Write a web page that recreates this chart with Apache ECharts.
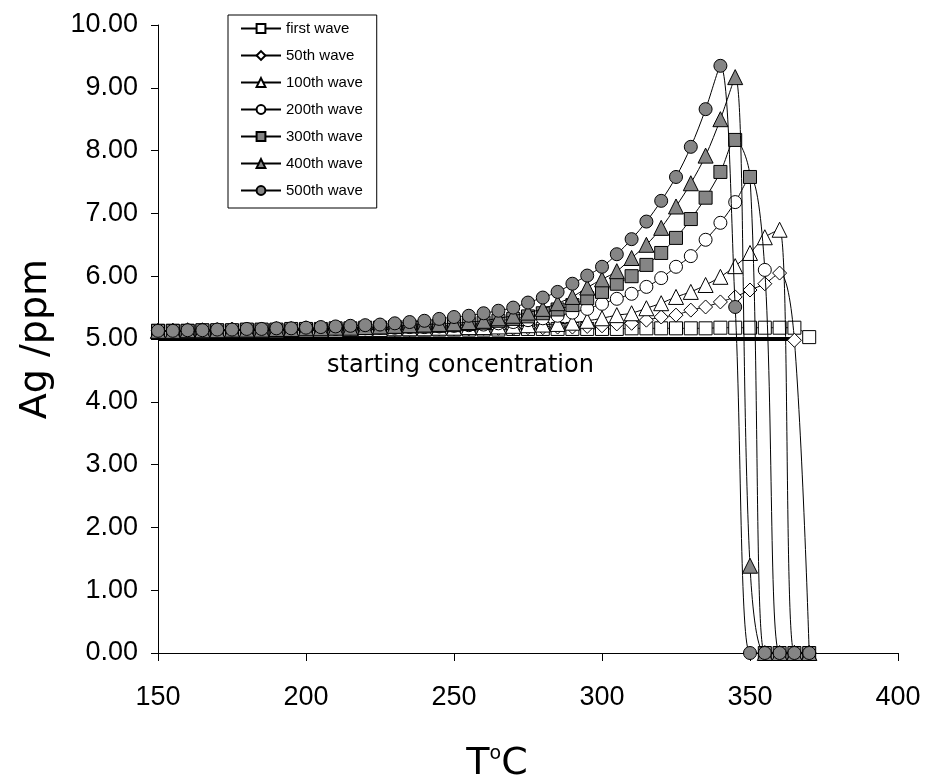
<!DOCTYPE html>
<html>
  <head>
    <meta charset="UTF-8" />
    <title>Ag waves</title>
    <style>
      html,
      body {
        margin: 0;
        padding: 0;
        background: #fff;
      }
      #main {
        width: 927px;
        height: 780px;
      }
    </style>
    <script src="https://cdn.jsdelivr.net/npm/echarts@6/dist/echarts.min.js"></script>
  </head>
  <body>
    <div id="main"></div>
    <script>
      // temperatures, 150..370 every 5 degrees
      var temps = [
        150, 155, 160, 165, 170, 175, 180, 185, 190, 195, 200, 205, 210, 215,
        220, 225, 230, 235, 240, 245, 250, 255, 260, 265, 270, 275, 280, 285,
        290, 295, 300, 305, 310, 315, 320, 325, 330, 335, 340, 345, 350, 355,
        360, 365, 370,
      ];
      var waveNames = [
        "first wave",
        "50th wave",
        "100th wave",
        "200th wave",
        "300th wave",
        "400th wave",
        "500th wave",
      ];
      var wave1 = [
        5.13, 5.13, 5.13, 5.13, 5.13, 5.13, 5.14, 5.14, 5.14, 5.14, 5.14, 5.14,
        5.14, 5.14, 5.15, 5.15, 5.15, 5.15, 5.15, 5.15, 5.15, 5.15, 5.15, 5.15,
        5.16, 5.16, 5.16, 5.16, 5.16, 5.16, 5.16, 5.16, 5.17, 5.17, 5.17, 5.17,
        5.17, 5.17, 5.18, 5.18, 5.18, 5.18, 5.18, 5.18, 5.03,
      ];
      var wave50 = [
        5.13, 5.13, 5.13, 5.13, 5.13, 5.14, 5.14, 5.14, 5.14, 5.14, 5.14, 5.14,
        5.15, 5.15, 5.15, 5.15, 5.15, 5.15, 5.16, 5.16, 5.16, 5.16, 5.17, 5.17,
        5.17, 5.18, 5.18, 5.19, 5.19, 5.2, 5.21, 5.24, 5.25, 5.3, 5.35, 5.38,
        5.46, 5.51, 5.59, 5.67, 5.78, 5.88, 6.05, 4.98, 0,
      ];
      var wave100 = [
        5.13, 5.13, 5.13, 5.13, 5.14, 5.14, 5.14, 5.14, 5.14, 5.15, 5.15, 5.15,
        5.15, 5.16, 5.16, 5.16, 5.17, 5.17, 5.17, 5.18, 5.18, 5.19, 5.19, 5.2,
        5.21, 5.22, 5.23, 5.24, 5.26, 5.29, 5.33, 5.38, 5.41, 5.49, 5.57, 5.67,
        5.75, 5.86, 5.99, 6.16, 6.37, 6.62, 6.74, 0, 0,
      ];
      var wave200 = [
        5.13, 5.13, 5.13, 5.14, 5.14, 5.14, 5.14, 5.15, 5.15, 5.15, 5.16, 5.16,
        5.16, 5.17, 5.17, 5.18, 5.18, 5.19, 5.19, 5.2, 5.21, 5.22, 5.23, 5.25,
        5.27, 5.3, 5.33, 5.37, 5.42, 5.48, 5.56, 5.64, 5.72, 5.83, 5.97, 6.15,
        6.32, 6.58, 6.85, 7.18, 7.58, 6.1, 0, 0, 0,
      ];
      var wave300 = [
        5.13, 5.13, 5.13, 5.14, 5.14, 5.14, 5.15, 5.15, 5.15, 5.16, 5.16, 5.16,
        5.17, 5.17, 5.18, 5.18, 5.19, 5.2, 5.2, 5.21, 5.22, 5.24, 5.26, 5.29,
        5.32, 5.36, 5.41, 5.47, 5.54, 5.65, 5.75, 5.88, 6.0, 6.18, 6.37, 6.61,
        6.91, 7.25, 7.66, 8.17, 7.58, 0, 0, 0, 0,
      ];
      var wave400 = [
        5.13, 5.13, 5.14, 5.14, 5.14, 5.15, 5.15, 5.15, 5.16, 5.16, 5.17, 5.17,
        5.18, 5.18, 5.19, 5.2, 5.21, 5.22, 5.23, 5.24, 5.25, 5.27, 5.29, 5.33,
        5.37, 5.42, 5.48, 5.57, 5.67, 5.82, 5.95, 6.08, 6.29, 6.5, 6.77, 7.11,
        7.48, 7.92, 8.5, 9.17, 1.39, 0, 0, 0, 0,
      ];
      var wave500 = [
        5.13, 5.13, 5.14, 5.14, 5.15, 5.15, 5.16, 5.16, 5.17, 5.17, 5.18, 5.19,
        5.2, 5.21, 5.22, 5.23, 5.25, 5.27, 5.29, 5.32, 5.35, 5.37, 5.41, 5.45,
        5.5, 5.58, 5.66, 5.75, 5.88, 6.01, 6.15, 6.35, 6.59, 6.87, 7.2, 7.58,
        8.06, 8.66, 9.35, 5.51, 0, 0, 0, 0, 0,
      ];
      var startLevel = 5.0;
      var startRange = [150, 365];

      var allWaves = [wave1, wave50, wave100, wave200, wave300, wave400, wave500];
      var symbols = ["rect", "diamond", "triangle", "circle", "rect", "triangle", "circle"];
      var fills = ["#fff", "#fff", "#fff", "#fff", "#858585", "#858585", "#858585"];
      var sizes = [13, 14, 15, 13, 13, 15, 13];

      var myChart = echarts.init(document.getElementById("main"));

      var series = [
        {
          name: "starting",
          type: "line",
          data: [
            [startRange[0], startLevel],
            [startRange[1], startLevel],
          ],
          symbol: "none",
          lineStyle: { color: "#000", width: 4 },
          silent: true,
          z: 1,
        },
      ];
      allWaves.forEach(function (vals, i) {
        series.push({
          name: waveNames[i],
          type: "line",
          smooth: 0.35,
          data: temps.map(function (t, k) {
            return [t, vals[k]];
          }),
          symbol: symbols[i],
          symbolSize: sizes[i],
          showAllSymbol: true,
          lineStyle: { color: "#000", width: 1 },
          itemStyle: { color: fills[i], borderColor: "#000", borderWidth: 1 },
          z: 2 + i,
        });
      });

      var option = {
        animation: false,
        backgroundColor: "#fff",
        textStyle: { fontFamily: "Liberation Sans, Arial, sans-serif" },
        grid: {
          left: 158,
          right: 29,
          top: 25,
          bottom: 127,
          containLabel: false,
          outerBoundsMode: "none",
        },
        legend: {
          data: waveNames,
          orient: "vertical",
          left: 228,
          top: 15,
          itemWidth: 40,
          itemHeight: 11,
          itemGap: 12,
          padding: [6, 14, 10, 12],
          borderColor: "#000",
          borderWidth: 1,
          backgroundColor: "#fff",
          textStyle: { color: "#000", fontSize: 15 },
        },
        xAxis: {
          type: "value",
          min: 150,
          max: 400,
          interval: 50,
          name: "T{s|o}C",
          nameLocation: "middle",
          nameGap: 92,
          nameTextStyle: {
            color: "#000",
            fontSize: 38,
            fontFamily: "DejaVu Sans",
            padding: [0, 62, 0, 0],
            rich: {
              s: {
                fontSize: 19,
                fontFamily: "DejaVu Sans",
                verticalAlign: "top",
                padding: [0, 0, 16, 0],
              },
            },
          },
          splitLine: { show: false },
          axisLine: { onZero: false, lineStyle: { color: "#000", width: 1 } },
          axisTick: { length: 8, lineStyle: { color: "#000" } },
          axisLabel: { color: "#000", fontSize: 27, margin: 31 },
        },
        yAxis: {
          type: "value",
          min: 0,
          max: 10,
          interval: 1,
          name: "Ag /ppm",
          nameLocation: "middle",
          nameGap: 103,
          nameTextStyle: { color: "#000", fontSize: 38, fontFamily: "DejaVu Sans" },
          splitLine: { show: false },
          axisLine: { show: true, lineStyle: { color: "#000", width: 1 } },
          axisTick: { show: true, length: 7, lineStyle: { color: "#000" } },
          axisLabel: {
            color: "#000",
            fontSize: 27,
            margin: 20,
            formatter: function (v) {
              return v.toFixed(2);
            },
          },
        },
        graphic: [
          {
            type: "text",
            left: 327,
            top: 354,
            style: {
              text: "starting concentration",
              fontSize: 24,
              fill: "#000",
              fontFamily: "DejaVu Sans",
            },
          },
        ],
        series: series,
      };

      myChart.setOption(option);
    </script>
  </body>
</html>
